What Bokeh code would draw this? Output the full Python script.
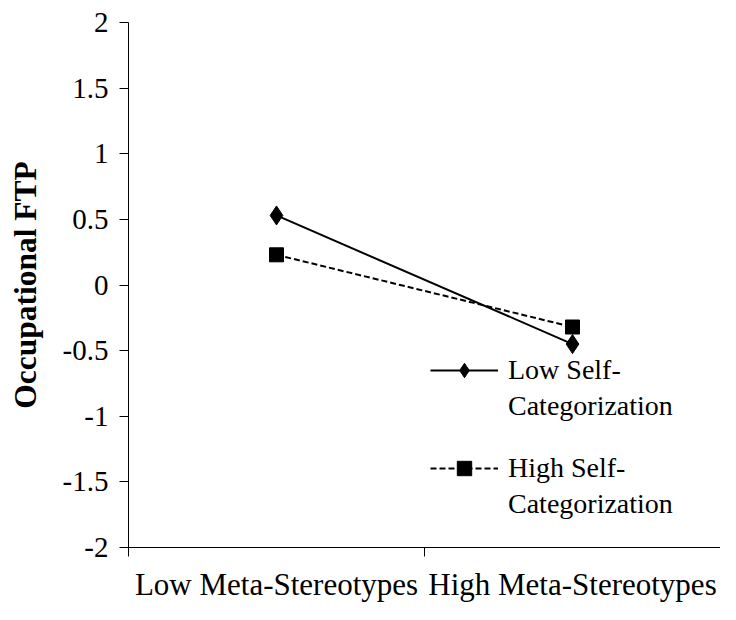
from bokeh.plotting import figure
from bokeh.models import FixedTicker, Legend, LegendItem, ColumnDataSource, Range1d
from bokeh.embed import file_html
from bokeh.resources import INLINE

categories = ["Low Meta-Stereotypes", "High Meta-Stereotypes"]
x_pos = [0.5, 1.5]
low_sc = [0.53, -0.45]
high_sc = [0.23, -0.32]
series_lines = [["Low Self-", "Categorization"], ["High Self-", "Categorization"]]
y_ticks = [-2, -1.5, -1, -0.5, 0, 0.5, 1, 1.5, 2]

FONT = "Liberation Serif"

p = figure(width=720, height=604, output_backend="svg", toolbar_location=None,
           x_range=Range1d(0, 2), y_range=Range1d(-2, 2),
           min_border_left=128, min_border_right=0, min_border_top=22, min_border_bottom=52)
p.outline_line_color = None
p.grid.visible = False
p.background_fill_color = "white"
p.border_fill_color = "white"

src = ColumnDataSource(dict(x=x_pos, low=low_sc, high=high_sc))

r1 = p.line("x", "low", source=src, line_color="black", line_width=2)
m1 = p.scatter("x", "low", source=src, marker="diamond", size=19,
               fill_color="black", line_color="black")
r2 = p.line("x", "high", source=src, line_color="black", line_width=2, line_dash="6 3")
m2 = p.scatter("x", "high", source=src, marker="square", size=14,
               fill_color="black", line_color="black")
dummy = p.line(x=[], y=[], line_alpha=0)

# x axis
xa = p.xaxis[0]
xa.ticker = FixedTicker(ticks=x_pos, minor_ticks=[0, 1, 2])
xa.major_label_overrides = {x: c for x, c in zip(x_pos, categories)}
xa.major_tick_out = 0
xa.major_tick_in = 0
xa.minor_tick_out = 9
xa.minor_tick_in = 0
xa.major_label_standoff = 10
xa.major_label_text_font = FONT
xa.major_label_text_font_size = "31px"
xa.major_label_text_color = "black"
xa.axis_line_color = "black"
xa.minor_tick_line_color = "black"

# y axis
ya = p.yaxis[0]
ya.ticker = FixedTicker(ticks=y_ticks, minor_ticks=[])
ya.major_label_overrides = {v: ("%g" % v) for v in y_ticks}
ya.major_tick_out = 9
ya.major_tick_in = 0
ya.major_label_standoff = 11
ya.major_label_text_font = FONT
ya.major_label_text_font_size = "29px"
ya.major_label_text_color = "black"
ya.axis_line_color = "black"
ya.major_tick_line_color = "black"
ya.axis_label = "Occupational FTP"
ya.axis_label_text_font = FONT
ya.axis_label_text_font_style = "bold"
ya.axis_label_text_font_size = "31.5px"
ya.axis_label_text_color = "black"
ya.axis_label_standoff = 17

def make_legend(lines, renderers, loc):
    return Legend(items=[LegendItem(label=lines[0], renderers=renderers),
                         LegendItem(label=lines[1], renderers=[dummy])],
                  location=loc, glyph_width=68, glyph_height=36, label_standoff=10,
                  spacing=0, padding=0, margin=0, label_height=36,
                  label_text_font=FONT, label_text_font_size="28px", label_text_color="black",
                  border_line_color=None, background_fill_alpha=0)

p.add_layout(make_legend(series_lines[0], [r1, m1], (302, 123)))
p.add_layout(make_legend(series_lines[1], [r2, m2], (302, 25)))

open("out.html", "w").write(file_html(p, INLINE))
